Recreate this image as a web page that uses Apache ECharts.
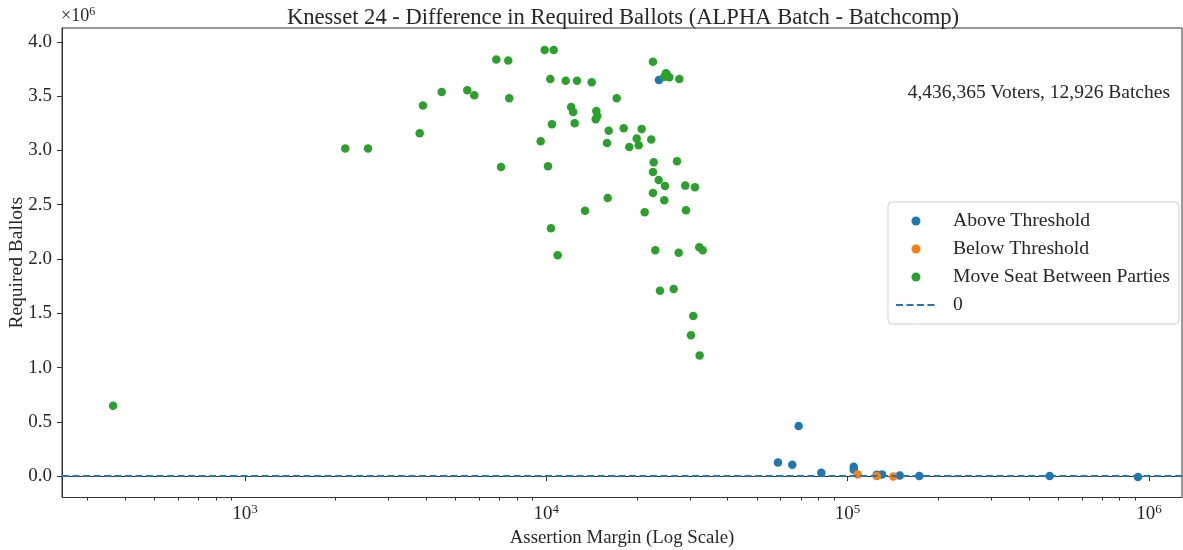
<!DOCTYPE html>
<html><head><meta charset="utf-8">
<script src="https://cdn.jsdelivr.net/npm/echarts@6/dist/echarts.min.js"></script>
<style>html,body{margin:0;padding:0;background:#fff}#c{width:1183px;height:550px}</style>
</head><body><div id="c"></div>
<script>
// ---- data ----
const aboveX = [23660, 68800, 58750, 65530, 81800, 104800, 104800, 124900, 130100, 148900, 173000, 468500, 920000];
const aboveY = [3650000, 461000, 126000, 104000, 30000, 86000, 58000, 12000, 16000, 6000, 0, 0, -9000];

const belowX = [108000, 124900, 141800];
const belowY = [16000, 0, -3000];

const moveX = [365, 2152, 2560, 3800, 3897, 4497, 5467, 5768, 6826, 7478, 7535, 7075, 9879, 10583, 10311, 11600, 12645, 14150,
  12092, 12281, 10445, 12424, 9581, 10130, 10365, 10909, 13446, 14657, 14769, 14588, 15990, 16112, 15906, 17128, 18068,
  18860, 19953, 20263, 20730, 21212, 22309, 22598, 22722, 22598, 23608, 24774, 22598, 24640, 27155, 28924, 31150, 29084,
  23003, 27507, 32190, 33040, 23838, 26475, 30750, 30210, 32290, 27635, 24960, 24640, 25210, 25600];
const moveY = [648000, 3017000, 3017000, 3158000, 3413000, 3539000, 3555000, 3509000, 3837000, 3828000, 3481000, 2848000, 3926000, 3926000, 3659000, 3643000, 3643000, 3629000,
  3401000, 3355000, 3241000, 3251000, 3085000, 2854000, 2284000, 2034000, 2444000, 3364000, 3318000, 3288000, 2562000, 3182000, 3069000, 3481000, 3205000,
  3032000, 3109000, 3048000, 3198000, 2430000, 3100000, 3816000, 2891000, 2802000, 2728000, 2673000, 2608000, 2541000, 2900000, 2676000, 2661000, 2449000,
  2080000, 2058000, 2108000, 2080000, 1708000, 1724000, 1475000, 1297000, 1112000, 3659000, 3712000, 3680000, 3696000, 3675000];

const seriesNames = ['Above Threshold', 'Below Threshold', 'Move Seat Between Parties', '0'];
const colors = ['#1f77b4', '#ff7f0e', '#2ca02c', '#1f77b4'];

const xMajorTicks = [1000, 10000, 100000, 1000000];
const xMinorTicks = [300, 400, 500, 600, 700, 800, 900, 2000, 3000, 4000, 5000, 6000, 7000, 8000, 9000,
  20000, 30000, 40000, 50000, 60000, 70000, 80000, 90000, 200000, 300000, 400000, 500000, 600000, 700000, 800000, 900000];
const yTicks = [0, 500000, 1000000, 1500000, 2000000, 2500000, 3000000, 3500000, 4000000];

const xMin = 247, xMax = 1288000;
const yMin = -197000, yMax = 4128000;
const zeroLineX = [xMin, xMax];
const zeroLineY = [0, 0];

const zip = (a, b) => a.map((v, i) => [v, b[i]]);

const FONT = 'Liberation Serif';
const TXT = '#262626';

const chart = echarts.init(document.getElementById('c'), null, {renderer: 'canvas'});
chart.setOption({
  animation: false,
  backgroundColor: '#fff',
  textStyle: {fontFamily: FONT, color: TXT},
  title: {
    text: 'Knesset 24 - Difference in Required Ballots (ALPHA Batch - Batchcomp)',
    left: 618, top: 2, textAlign: 'center',
    textStyle: {fontFamily: FONT, fontWeight: 'normal', fontSize: 22.6, color: TXT}
  },
  grid: {left: 62, right: 1, top: 28, bottom: 52.5, show: true, borderColor: '#333', borderWidth: 1,
    backgroundColor: 'transparent', outerBoundsMode: 'none', containLabel: false},
  legend: {
    orient: 'vertical', right: 4, top: 202,
    backgroundColor: 'rgba(255,255,255,0.8)', borderColor: '#d0d0d0', borderWidth: 1, borderRadius: 4,
    padding: [9, 9, 9, 7], itemGap: 8, itemWidth: 40, itemHeight: 9,
    textStyle: {fontFamily: FONT, fontSize: 19.7, color: TXT, lineHeight: 20, padding: [0, 0, 0, 12]},
    data: [seriesNames[0], seriesNames[1], seriesNames[2], {name: seriesNames[3], itemStyle: {opacity: 0}}]
  },
  xAxis: [{
    type: 'log', logBase: 10, min: xMin, max: xMax,
    name: 'Assertion Margin (Log Scale)', nameLocation: 'middle', nameGap: 30,
    nameTextStyle: {fontFamily: FONT, fontSize: 18.8, color: TXT},
    axisLine: {show: true, lineStyle: {color: '#333', width: 1}},
    axisTick: {show: true, length: 5, lineStyle: {color: '#333'}, customValues: xMajorTicks},
    axisLabel: {
      customValues: xMajorTicks, margin: 6, color: TXT, fontFamily: FONT, fontSize: 19,
      formatter: v => '10{sup|' + Math.round(Math.log10(v)) + '}',
      rich: {sup: {fontSize: 13, fontFamily: FONT, color: TXT, padding: [0, 0, 9, 0]}}
    },
    splitLine: {show: false}, minorTick: {show: false}
  }, {
    type: 'log', logBase: 10, min: xMin, max: xMax, position: 'bottom', gridIndex: 0,
    axisLine: {show: false},
    axisTick: {show: true, length: 3, lineStyle: {color: '#333'}, customValues: xMinorTicks},
    axisLabel: {show: false}, splitLine: {show: false}
  }],
  yAxis: {
    type: 'value', min: yMin, max: yMax,
    name: 'Required Ballots', nameLocation: 'middle', nameGap: 35, nameMoveOverlap: false,
    nameTextStyle: {fontFamily: FONT, fontSize: 19.5, color: TXT},
    axisLine: {show: true, lineStyle: {color: '#333', width: 1}},
    axisTick: {show: true, length: 5, lineStyle: {color: '#333'}, customValues: yTicks},
    axisLabel: {customValues: yTicks, margin: 10, color: TXT, fontFamily: FONT, fontSize: 19,
      formatter: v => (v / 1e6).toFixed(1)},
    splitLine: {show: false}
  },
  graphic: [{
    type: 'text', left: 61, top: 6,
    style: {text: '×10{sup|6}', fontFamily: FONT, fontSize: 18, fill: TXT,
      rich: {sup: {fontSize: 12, fontFamily: FONT, fill: TXT, padding: [0, 0, 8, 0]}}}
  }, {
    type: 'text', right: 13, top: 83,
    style: {text: '4,436,365 Voters, 12,926 Batches', fontFamily: FONT, fontSize: 19.5, fill: TXT}
  }],
  series: [
    {name: seriesNames[0], type: 'scatter', data: zip(aboveX, aboveY), symbolSize: 8.5, itemStyle: {color: colors[0], opacity: 1}, z: 2},
    {name: seriesNames[1], type: 'scatter', data: zip(belowX, belowY), symbolSize: 8.5, itemStyle: {color: colors[1], opacity: 1}, z: 3},
    {name: seriesNames[2], type: 'scatter', data: zip(moveX, moveY), symbolSize: 8.5, itemStyle: {color: colors[2], opacity: 1}, z: 4},
    {name: seriesNames[3], type: 'line', data: zip(zeroLineX, zeroLineY), symbol: 'none', showSymbol: false,
      itemStyle: {color: colors[3]}, lineStyle: {color: colors[3], width: 2, type: [7, 3.5]}, z: 5, silent: true}
  ]
});
</script></body></html>
